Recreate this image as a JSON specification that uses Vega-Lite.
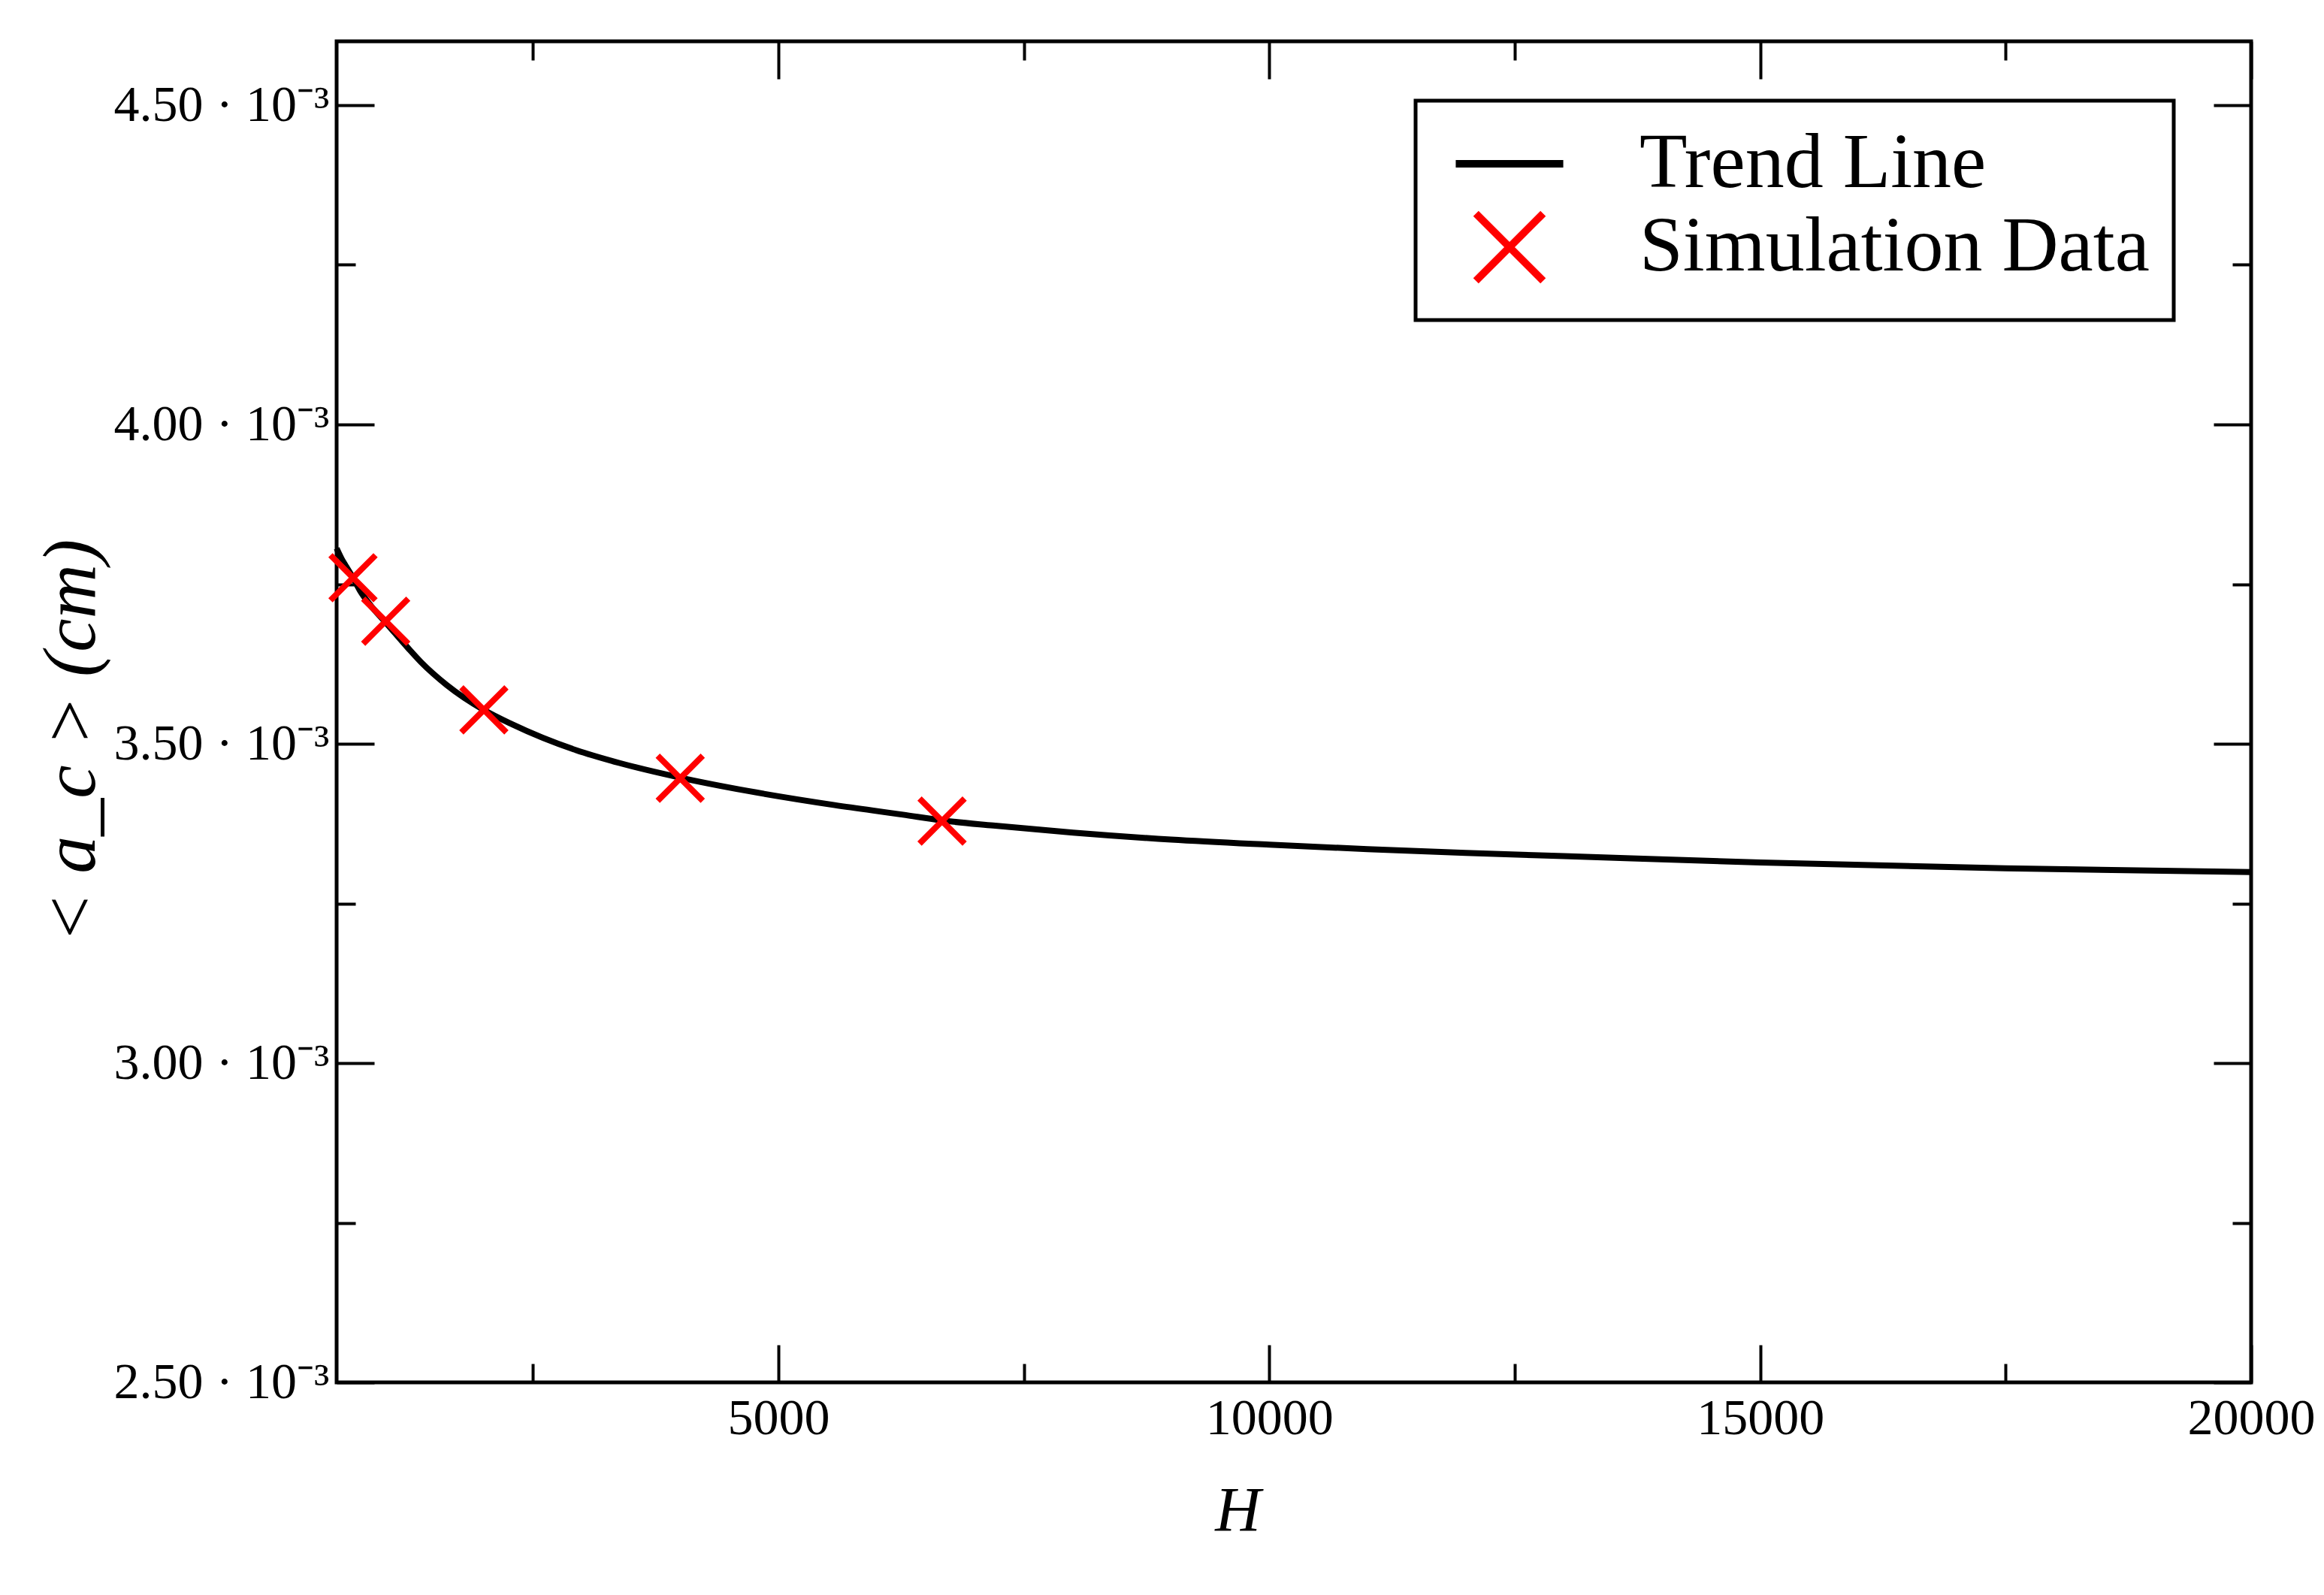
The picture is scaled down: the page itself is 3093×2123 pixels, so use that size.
{
  "$schema": "https://vega.github.io/schema/vega-lite/v6.json",
  "width": 2548,
  "height": 1785,
  "autosize": {"type": "none"},
  "padding": {"left": 448, "top": 55, "right": 97, "bottom": 283},
  "background": "white",
  "config": {
    "view": {"stroke": "black", "strokeWidth": 5},
    "font": "Liberation Serif",
    "legend": {"strokeWidth": 5},
    "axis": {
      "labelFont": "Liberation Serif",
      "labelFontSize": 68,
      "labelColor": "black",
      "labelLimit": 2000,
      "tickColor": "black",
      "tickWidth": 4,
      "domain": false,
      "grid": false,
      "labelOverlap": false,
      "labelFlush": false,
      "titleFont": "Liberation Serif",
      "titleColor": "black",
      "titleFontWeight": "normal"
    }
  },
  "datasets": {
    "trend": [
      {"H": 500, "a": 0.003806, "series": "Trend Line"},
      {"H": 550, "a": 0.003790, "series": "Trend Line"},
      {"H": 600, "a": 0.003777, "series": "Trend Line"},
      {"H": 667, "a": 0.003760, "series": "Trend Line"},
      {"H": 745, "a": 0.003738, "series": "Trend Line"},
      {"H": 850, "a": 0.003716, "series": "Trend Line"},
      {"H": 1000, "a": 0.003690, "series": "Trend Line"},
      {"H": 1227, "a": 0.003650, "series": "Trend Line"},
      {"H": 1359, "a": 0.003628, "series": "Trend Line"},
      {"H": 1622, "a": 0.003592, "series": "Trend Line"},
      {"H": 2000, "a": 0.003553, "series": "Trend Line"},
      {"H": 2281, "a": 0.003531, "series": "Trend Line"},
      {"H": 2939, "a": 0.003490, "series": "Trend Line"},
      {"H": 3378, "a": 0.003470, "series": "Trend Line"},
      {"H": 4000, "a": 0.003447, "series": "Trend Line"},
      {"H": 4694, "a": 0.003426, "series": "Trend Line"},
      {"H": 5573, "a": 0.003404, "series": "Trend Line"},
      {"H": 6269, "a": 0.003389, "series": "Trend Line"},
      {"H": 6667, "a": 0.003380, "series": "Trend Line"},
      {"H": 7187, "a": 0.003372, "series": "Trend Line"},
      {"H": 8000, "a": 0.003361, "series": "Trend Line"},
      {"H": 9000, "a": 0.003350, "series": "Trend Line"},
      {"H": 10000, "a": 0.003342, "series": "Trend Line"},
      {"H": 11000, "a": 0.003335, "series": "Trend Line"},
      {"H": 12000, "a": 0.003329, "series": "Trend Line"},
      {"H": 13000, "a": 0.003324, "series": "Trend Line"},
      {"H": 15000, "a": 0.003314, "series": "Trend Line"},
      {"H": 17500, "a": 0.003305, "series": "Trend Line"},
      {"H": 20000, "a": 0.003299, "series": "Trend Line"}
    ],
    "sim": [
      {"H": 667, "a": 0.003760, "series": "Simulation Data"},
      {"H": 1000, "a": 0.003692, "series": "Simulation Data"},
      {"H": 2000, "a": 0.003553, "series": "Simulation Data"},
      {"H": 4000, "a": 0.003446, "series": "Simulation Data"},
      {"H": 6667, "a": 0.003379, "series": "Simulation Data"}
    ]
  },
  "layer": [
    {
      "data": {"name": "trend"},
      "mark": {"type": "line", "strokeWidth": 8, "interpolate": "monotone"},
      "encoding": {
        "x": {
          "field": "H", "type": "quantitative",
          "scale": {"domain": [500, 20000], "nice": false, "zero": false},
          "axis": {
            "orient": "bottom",
            "values": [2500, 5000, 7500, 10000, 12500, 15000, 17500, 20000],
            "tickSize": {"condition": {"test": "datum.value % 5000 == 0", "value": -50}, "value": -25},
            "labelExpr": "datum.value % 5000 == 0 ? format(datum.value, 'd') : ''",
            "labelPadding": 64,
            "title": "H",
            "titleFontSize": 84,
            "titleFontStyle": "italic",
            "titleX": 1199,
            "titleY": 172,
            "titleBaseline": "middle"
          }
        },
        "y": {
          "field": "a", "type": "quantitative",
          "scale": {"domain": [0.0025, 0.0046], "nice": false, "zero": false},
          "axis": {
            "orient": "left",
            "values": [0.0025, 0.00275, 0.003, 0.00325, 0.0035, 0.00375, 0.004, 0.00425, 0.0045],
            "tickSize": {"condition": {"test": "round(datum.value * 4000) % 2 == 0", "value": -50}, "value": -25},
            "labelExpr": "round(datum.value * 4000) % 2 == 0 ? format(datum.value * 1000, '.2f') + ' · 10⁻³' : ''",
            "labelPadding": 60,
            "title": "< a_c >  (cm)",
            "titleFontSize": 100,
            "titleFontStyle": "italic",
            "titleAngle": -90,
            "titleX": -353,
            "titleY": 931,
            "titleAlign": "center",
            "titleBaseline": "middle"
          }
        },
        "color": {
          "field": "series", "type": "nominal",
          "scale": {"domain": ["Trend Line", "Simulation Data"], "range": ["black", "#ff0000"]}
        }
      }
    },
    {
      "data": {"name": "sim"},
      "mark": {"type": "point", "filled": false, "strokeWidth": 8, "size": 3600, "opacity": 1},
      "encoding": {
        "x": {
          "field": "H", "type": "quantitative",
          "axis": {
            "orient": "top",
            "values": [2500, 5000, 7500, 10000, 12500, 15000, 17500, 20000],
            "tickSize": {"condition": {"test": "datum.value % 5000 == 0", "value": -50}, "value": -25},
            "labels": false,
            "title": null
          }
        },
        "y": {
          "field": "a", "type": "quantitative",
          "axis": {
            "orient": "right",
            "values": [0.0025, 0.00275, 0.003, 0.00325, 0.0035, 0.00375, 0.004, 0.00425, 0.0045],
            "tickSize": {"condition": {"test": "round(datum.value * 4000) % 2 == 0", "value": -50}, "value": -25},
            "labels": false,
            "title": null
          }
        },
        "color": {
          "field": "series", "type": "nominal",
          "scale": {"domain": ["Trend Line", "Simulation Data"], "range": ["black", "#ff0000"]},
          "legend": {
            "title": null,
            "orient": "none",
            "legendX": 1436,
            "legendY": 79,
            "padding": 32,
            "symbolOffset": 41,
            "labelOffset": 121,
            "labelFont": "Liberation Serif",
            "labelFontSize": 104,
            "labelColor": "black",
            "labelLimit": 2000,
            "rowPadding": -6,
            "symbolSize": 8000,
            "symbolStrokeWidth": 10,
            "strokeColor": "black",
            "fillColor": "white",
            "encode": {"legend": {"update": {"strokeWidth": {"value": 5}}}}
          }
        },
        "shape": {
          "field": "series", "type": "nominal",
          "scale": {"domain": ["Trend Line", "Simulation Data"], "range": ["M-1.6,0H1.6", "M-1,-1L1,1M-1,1L1,-1"]},
          "legend": {
            "title": null,
            "orient": "none",
            "legendX": 1436,
            "legendY": 79
          }
        }
      }
    }
  ],
  "resolve": {"axis": {"x": "independent", "y": "independent"}}
}
